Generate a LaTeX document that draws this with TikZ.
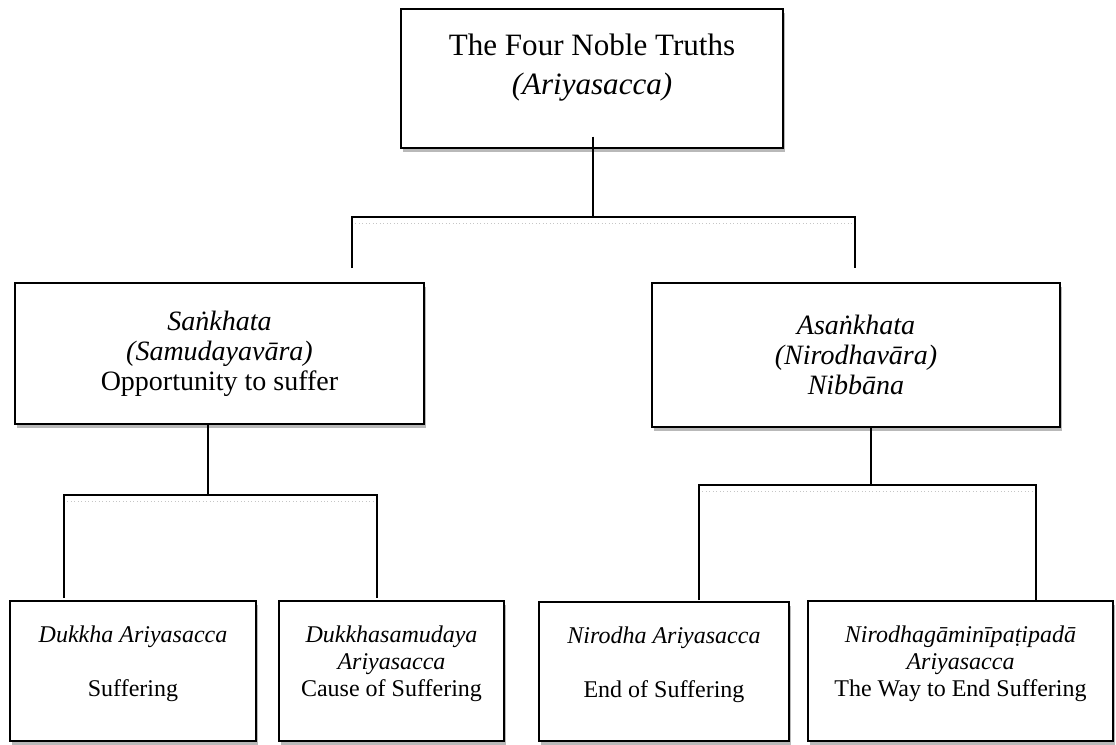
\documentclass[tikz,border=0pt]{standalone}
\usepackage{fontspec}
\setmainfont{Liberation Serif}
\usetikzlibrary{shadows}

\begin{document}
\begin{tikzpicture}[
  x=0.75pt, y=-0.75pt,
  box/.style={draw, line width=1.1pt, fill=white, align=center, inner sep=0pt,
              drop shadow={shadow xshift=1.5pt, shadow yshift=-3pt,
                           fill=gray!55, opacity=1}},
  big/.style={box, font=\fontsize{23.3}{29}\selectfont},
  mid/.style={box, font=\fontsize{21}{22.5}\selectfont},
  small/.style={box, font=\fontsize{18}{20.25}\selectfont},
  ln/.style={line width=1pt, black},
  lnshade/.style={line width=0.6pt, gray!45, dotted}
]
\useasboundingbox (0,0) rectangle (1116,744);

\node[big, minimum width=286.5pt, minimum height=104.25pt] (truths) at (592,78.5)
  {The Four Noble Truths\\\textit{(Ariyasacca)}\\[-7.5pt]\mbox{}};

\node[mid, minimum width=306.75pt, minimum height=105.75pt] (sankhata) at (219.5,353.5)
  {\textit{Saṅkhata}\\\textit{(Samudayavāra)}\\Opportunity to suffer};
\node[mid, minimum width=306pt, minimum height=108pt] (asankhata) at (856,355)
  {\textit{Asaṅkhata}\\\textit{(Nirodhavāra)}\\\textit{Nibbāna}};

\node[small, minimum width=184.5pt, minimum height=105pt] (dukkha) at (133,671)
  {\textit{Dukkha Ariyasacca}\\[20.25pt]Suffering\\[-6pt]\mbox{}};
\node[small, minimum width=168.75pt, minimum height=105pt] (samudaya) at (391.5,671)
  {\textit{Dukkhasamudaya}\\\textit{Ariyasacca}\\Cause of Suffering\\[-6pt]\mbox{}};
\node[small, minimum width=187.5pt, minimum height=104.25pt] (nirodha) at (664,671.5)
  {\textit{Nirodha Ariyasacca}\\[20.25pt]End of Suffering\\[-6pt]\mbox{}};
\node[small, minimum width=228.75pt, minimum height=105pt] (magga) at (960.5,671)
  {\textit{Nirodhagāminīpaṭipadā}\\\textit{Ariyasacca}\\The Way to End Suffering\\[-6pt]\mbox{}};

% branch points and free ends
\coordinate (t1) at (593,217);
\coordinate (tL) at (352,268);
\coordinate (tR) at (855,268);
\coordinate (s1) at (208,495);
\coordinate (sL) at (64,598);
\coordinate (sR) at (377,598);
\coordinate (a1) at (871,485);
\coordinate (aL) at (699,600);
\coordinate (aR) at (1036,600);

\draw[lnshade] ([yshift=-4.5pt]tL |- t1) -- ([yshift=-4.5pt]tR |- t1);
\draw[lnshade] ([yshift=-4.5pt]sL |- s1) -- ([yshift=-4.5pt]sR |- s1);
\draw[lnshade] ([yshift=-4.5pt]aL |- a1) -- ([yshift=-4.5pt]aR |- a1);

\draw[ln] ([yshift=9pt]truths.south -| t1) -- (t1);
\draw[ln] (tL) |- (t1) -| (tR);
\draw[ln] (sankhata.south -| s1) -- (s1);
\draw[ln] (sL) |- (s1) -| (sR);
\draw[ln] (asankhata.south -| a1) -- (a1);
\draw[ln] (aL) |- (a1) -| (aR);

\end{tikzpicture}
\end{document}
